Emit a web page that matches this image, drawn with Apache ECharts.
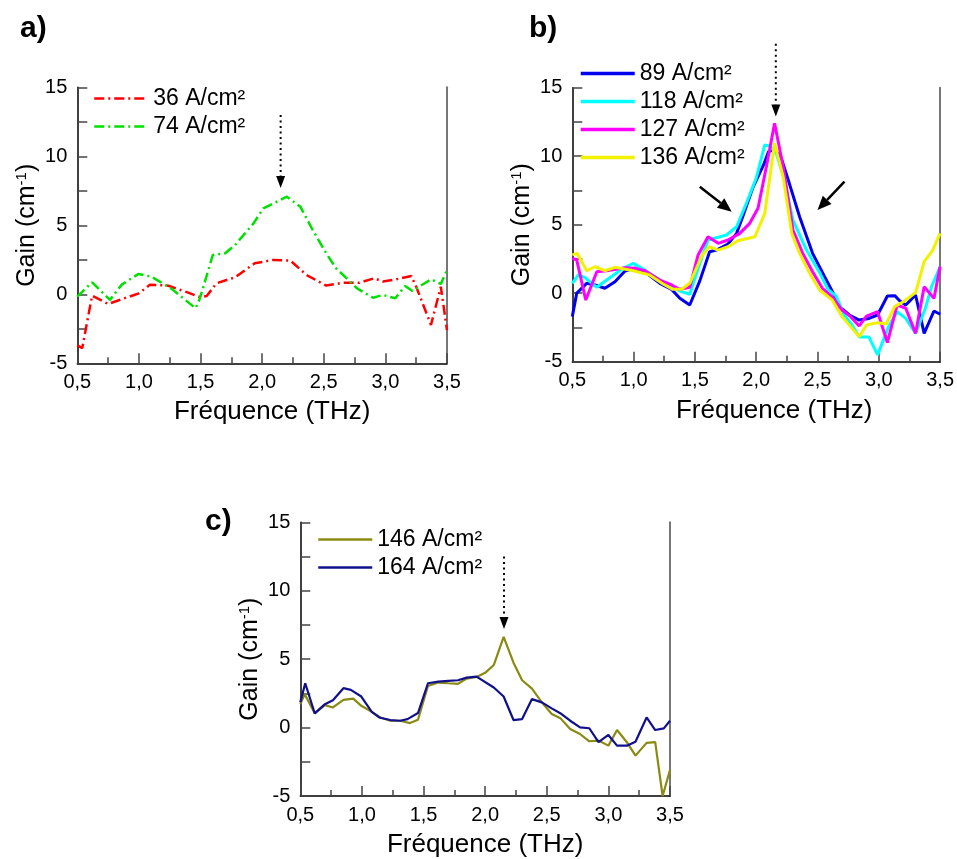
<!DOCTYPE html>
<html>
<head>
<meta charset="utf-8">
<script src="https://cdn.jsdelivr.net/npm/echarts@6/dist/echarts.min.js"></script>
<style>
html,body{margin:0;padding:0;background:#fff;}
#chart{width:957px;height:859px;}
</style>
</head>
<body>
<div id="chart"></div>
<script>
// ---------- DATA ----------
// Panel a
const freqA36 = [0.5, 0.54, 0.62, 0.75, 1.0, 1.09, 1.24, 1.40, 1.50, 1.55, 1.63, 1.78, 1.94, 2.09, 2.23, 2.36, 2.52, 2.66, 2.79, 2.91, 2.98, 3.09, 3.21, 3.25, 3.37, 3.45, 3.5];
const gainA36 = [-3.7, -3.9, -0.1, -0.7, 0.07, 0.7, 0.62, 0.12, -0.22, -0.12, 0.8, 1.23, 2.25, 2.49, 2.44, 1.4, 0.63, 0.84, 0.84, 1.16, 0.92, 1.09, 1.33, 0.55, -2.22, 0.55, -2.6];
const freqA74 = [0.5, 0.62, 0.765, 0.86, 0.995, 1.10, 1.26, 1.46, 1.495, 1.60, 1.70, 1.78, 1.93, 2.01, 2.20, 2.31, 2.41, 2.52, 2.60, 2.70, 2.77, 2.90, 2.98, 3.08, 3.16, 3.22, 3.37, 3.45, 3.5];
const gainA74 = [-0.17, 0.87, -0.41, 0.7, 1.47, 1.28, 0.43, -1.01, -0.29, 2.85, 2.97, 3.57, 5.14, 6.23, 7.07, 6.35, 4.66, 2.97, 1.88, 1.04, 0.43, -0.25, -0.05, -0.29, 0.6, 0.24, 1.09, 0.75, 1.76];
// Panel b
const freqB89 = [0.5, 0.536, 0.617, 0.685, 0.766, 0.848, 0.93, 1.01, 1.09, 1.214, 1.31, 1.377, 1.458, 1.54, 1.62, 1.676, 1.77, 1.84, 1.89, 1.97, 2.06, 2.10, 2.15, 2.205, 2.27, 2.354, 2.46, 2.558, 2.65, 2.68, 2.76, 2.84, 2.92, 2.99, 3.07, 3.13, 3.17, 3.22, 3.30, 3.37, 3.45, 3.5];
const gainB89 = [-1.71, 0, 0.72, 0.6, 0.36, 0.84, 1.62, 1.82, 1.57, 0.72, 0.28, -0.37, -0.86, 0.9, 3.03, 3.15, 3.59, 4.37, 5.58, 7.65, 9.36, 10.33, 10.5, 9.84, 8.02, 5.58, 2.91, 1.2, -0.37, -0.98, -1.59, -1.96, -1.84, -1.59, -0.2, -0.18, -0.55, -0.86, -0.13, -2.93, -1.3, -1.54];
const freqB118 = [0.5, 0.55, 0.60, 0.70, 0.78, 0.915, 0.997, 1.09, 1.214, 1.32, 1.39, 1.458, 1.54, 1.607, 1.69, 1.757, 1.84, 1.92, 2.0, 2.07, 2.11, 2.165, 2.23, 2.30, 2.41, 2.52, 2.585, 2.65, 2.72, 2.78, 2.84, 2.92, 2.99, 3.08, 3.15, 3.22, 3.30, 3.38, 3.43, 3.5];
const gainB118 = [0.72, 1.33, 1.16, 0.43, 0.96, 1.82, 2.18, 1.7, 0.96, 0.43, 0.11, -0.08, 2.18, 3.88, 4.08, 4.25, 4.85, 6.56, 8.39, 10.82, 10.74, 10.2, 8.26, 5.34, 3.15, 1.45, 0.28, -0.2, -1.6, -2.3, -3.2, -3.2, -4.5, -2.44, -1.35, -1.84, -2.93, -1.1, 0.47, 1.93];
const freqB127 = [0.5, 0.536, 0.61, 0.70, 0.78, 0.93, 1.01, 1.09, 1.214, 1.31, 1.377, 1.458, 1.526, 1.607, 1.69, 1.77, 1.866, 1.947, 2.015, 2.083, 2.15, 2.22, 2.30, 2.38, 2.46, 2.54, 2.62, 2.70, 2.77, 2.84, 2.90, 2.99, 3.07, 3.15, 3.22, 3.30, 3.37, 3.45, 3.5];
const gainB127 = [2.55, 2.43, -0.5, 1.57, 1.64, 1.86, 1.82, 1.65, 0.96, 0.6, 0.28, 0.43, 2.79, 4.12, 3.64, 3.88, 4.37, 5.1, 6.2, 9.23, 12.4, 9.23, 4.61, 2.91, 1.57, 0.36, -0.26, -1.23, -1.71, -2.39, -1.67, -1.35, -3.6, -0.86, -1.1, -2.93, 0.47, -0.38, 1.94];
const freqB136 = [0.5, 0.54, 0.617, 0.685, 0.766, 0.848, 0.997, 1.13, 1.24, 1.32, 1.39, 1.458, 1.553, 1.616, 1.69, 1.77, 1.85, 1.99, 2.07, 2.15, 2.22, 2.29, 2.354, 2.436, 2.517, 2.62, 2.70, 2.77, 2.84, 2.90, 2.99, 3.06, 3.13, 3.20, 3.30, 3.37, 3.44, 3.5];
const gainB136 = [2.8, 2.91, 1.64, 1.93, 1.64, 1.89, 1.64, 1.33, 0.67, 0.28, 0.28, 0.72, 2.66, 3.4, 3.15, 3.4, 3.83, 4.12, 5.83, 10.94, 8.5, 4.37, 2.91, 1.45, 0.23, -0.5, -1.71, -2.44, -3.18, -2.32, -2.15, -2.25, -0.98, -0.62, 0.04, 2.3, 3.15, 4.37];
// Panel c
const freqC146 = [0.5, 0.536, 0.617, 0.70, 0.765, 0.85, 0.93, 0.995, 1.08, 1.15, 1.23, 1.31, 1.39, 1.455, 1.536, 1.62, 1.70, 1.78, 1.85, 1.93, 2.0, 2.07, 2.15, 2.23, 2.30, 2.38, 2.46, 2.54, 2.61, 2.69, 2.77, 2.845, 2.92, 3.0, 3.07, 3.15, 3.22, 3.31, 3.38, 3.44, 3.5];
const gainC146 = [1.71, 2.44, 1.04, 1.64, 1.47, 2.03, 2.12, 1.59, 1.15, 0.74, 0.5, 0.5, 0.33, 0.57, 3.04, 3.29, 3.24, 3.2, 3.58, 3.7, 4.0, 4.57, 6.63, 4.74, 3.46, 2.85, 1.84, 0.99, 0.69, -0.1, -0.47, -1.0, -0.95, -1.32, -0.18, -1.07, -2.05, -1.12, -1.07, -5.0, -3.1];
const freqC164 = [0.5, 0.54, 0.617, 0.70, 0.765, 0.85, 0.91, 0.995, 1.08, 1.14, 1.23, 1.31, 1.37, 1.455, 1.536, 1.62, 1.70, 1.78, 1.85, 1.93, 2.07, 2.15, 2.23, 2.30, 2.38, 2.46, 2.54, 2.62, 2.69, 2.77, 2.845, 2.92, 3.0, 3.07, 3.15, 3.22, 3.31, 3.38, 3.45, 3.5];
const gainC164 = [1.84, 3.24, 1.04, 1.71, 2.0, 2.88, 2.75, 2.27, 1.15, 0.74, 0.55, 0.5, 0.62, 1.06, 3.24, 3.36, 3.41, 3.46, 3.65, 3.72, 2.93, 2.27, 0.55, 0.62, 2.08, 1.84, 1.4, 0.99, 0.5, 0.02, -0.05, -1.07, -0.54, -1.32, -1.32, -1.03, 0.74, -0.18, -0.06, 0.5];
// Annotation arrows [x0, y0, x1, y1]
const dottedArrowA = [[2.15, 13.0, 2.15, 7.7]];
const dottedArrowB = [[2.16, 18.2, 2.16, 12.9]];
const solidArrowsB = [[1.54, 7.77, 1.80, 5.95], [2.72, 8.14, 2.50, 6.07]];
const dottedArrowC = [[2.153, 12.5, 2.153, 7.2]];
// Axis / labels
const panelLabels = ['a)', 'b)', 'c)'];
const xAxisName = 'Fréquence (THz)';
const yTicks = [-5, 0, 5, 10, 15];

// ---------- HELPERS ----------
const FONT = 'Liberation Sans, Arial, Helvetica, sans-serif';
const zip = (f, g) => f.map((x, i) => [x, g[i]]);

function makeX(idx, namePadLeft) {
  return {
    type: 'value', gridIndex: idx, min: 0.5, max: 3.5, interval: 0.5,
    name: xAxisName, nameLocation: 'middle', nameGap: 36,
    nameTextStyle: {fontFamily: FONT, fontSize: 26, color: '#000', padding: [0, 0, 0, namePadLeft]},
    axisLine: {show: true, onZero: false, lineStyle: {color: '#000', width: 1.5}},
    axisTick: {show: true, inside: true, length: 10, lineStyle: {color: '#444', width: 1.5}},
    minorTick: {show: true, splitNumber: 2, length: 6, lineStyle: {color: '#444', width: 1.5}},
    splitLine: {show: false},
    axisLabel: {margin: 9, fontFamily: FONT, fontSize: 20, color: '#000',
      formatter: v => v.toFixed(1).replace('.', ',')}
  };
}
function makeY(idx) {
  return {
    type: 'value', gridIndex: idx, min: yTicks[0], max: yTicks[yTicks.length - 1], interval: 5,
    name: 'Gain (cm{sup|-1})', nameLocation: 'middle', nameGap: 38, nameRotate: 90,
    nameTextStyle: {fontFamily: FONT, fontSize: 25, color: '#000',
      rich: {sup: {fontFamily: FONT, fontSize: 15, verticalAlign: 'top', color: '#000'}}},
    axisLine: {show: true, onZero: false, lineStyle: {color: '#000', width: 1.5}},
    axisTick: {show: true, inside: true, length: 10, lineStyle: {color: '#444', width: 1.5}},
    minorTick: {show: true, splitNumber: 2, length: 10, lineStyle: {color: '#444', width: 1.5}},
    splitLine: {show: false},
    axisLabel: {margin: 10, fontFamily: FONT, fontSize: 20, color: '#000'}
  };
}
function makeYRight(idx) {
  return {
    type: 'value', gridIndex: idx, position: 'right', min: -5, max: 15, interval: 5,
    axisLine: {show: true, onZero: false, lineStyle: {color: '#777', width: 2}},
    axisTick: {show: false}, axisLabel: {show: false}, splitLine: {show: false}
  };
}
function lineSeries(name, f, g, xi, yi, color, width, dash) {
  return {
    type: 'line', name: name, xAxisIndex: xi, yAxisIndex: yi,
    data: zip(f, g), symbol: 'none', smooth: false,
    lineStyle: {color: color, width: width, type: dash || 'solid'},
    itemStyle: {color: color}, z: 3
  };
}
function arrowSeries(data, xi, yi, dotted) {
  return {
    type: 'custom', xAxisIndex: xi, yAxisIndex: yi, clip: false, silent: true, z: 5,
    data: data,
    renderItem: function (params, api) {
      const p0 = api.coord([api.value(0), api.value(1)]);
      const p1 = api.coord([api.value(2), api.value(3)]);
      const dx = p1[0] - p0[0], dy = p1[1] - p0[1];
      const len = Math.sqrt(dx * dx + dy * dy);
      const ux = dx / len, uy = dy / len;
      const headLen = dotted ? 12 : 14, headW = dotted ? 4.5 : 6;
      const bx = p1[0] - ux * headLen, by = p1[1] - uy * headLen;
      return {
        type: 'group',
        children: [
          {type: 'line', shape: {x1: p0[0], y1: p0[1], x2: bx, y2: by},
            style: {stroke: '#000', lineWidth: dotted ? 2 : 2.5, lineDash: dotted ? [2, 3.5] : null}},
          {type: 'polygon', shape: {points: [[p1[0], p1[1]], [bx - uy * headW, by + ux * headW], [bx + uy * headW, by - ux * headW]]},
            style: {fill: '#000'}}
        ]
      };
    }
  };
}
function legendAt(names, left, top, lineW) {
  return {
    data: names, orient: 'vertical', left: left, top: top, padding: 0,
    itemWidth: 54, itemHeight: 14, itemGap: 5, selectedMode: false,
    itemStyle: {opacity: 0, borderWidth: 0},
    lineStyle: {width: lineW},
    textStyle: {fontFamily: FONT, fontSize: 23, color: '#000'}
  };
}

const dashDot = [10, 4, 2, 4];
const option = {
  backgroundColor: '#fff',
  animation: false,
  title: [
    {text: panelLabels[0], left: 20, top: 14, padding: 0, textStyle: {fontFamily: FONT, fontSize: 30, fontWeight: 'bold', color: '#000'}},
    {text: panelLabels[1], left: 529, top: 14, padding: 0, textStyle: {fontFamily: FONT, fontSize: 30, fontWeight: 'bold', color: '#000'}},
    {text: panelLabels[2], left: 205, top: 507, padding: 0, textStyle: {fontFamily: FONT, fontSize: 30, fontWeight: 'bold', color: '#000'}}
  ],
  grid: [
    {left: 77.3, top: 87.3, width: 369.7, height: 276},
    {left: 572.3, top: 87.7, width: 368.4, height: 274},
    {left: 300.3, top: 522.3, width: 369.7, height: 275}
  ],
  xAxis: [makeX(0, 20), makeX(1, 36), makeX(2, 0)],
  yAxis: [makeY(0), makeY(1), makeY(2), makeYRight(0), makeYRight(1), makeYRight(2)],
  legend: [
    legendAt(['36 A/cm²', '74 A/cm²'], 93, 87, 2.5),
    legendAt(['89 A/cm²', '118 A/cm²', '127 A/cm²', '136 A/cm²'], 579, 62, 3.5),
    legendAt(['146 A/cm²', '164 A/cm²'], 317, 528, 2.5)
  ],
  series: [
    lineSeries('36 A/cm²', freqA36, gainA36, 0, 0, '#ff0000', 2.5, dashDot),
    lineSeries('74 A/cm²', freqA74, gainA74, 0, 0, '#00e000', 2.5, dashDot),
    lineSeries('89 A/cm²', freqB89, gainB89, 1, 1, '#0000ee', 3),
    lineSeries('118 A/cm²', freqB118, gainB118, 1, 1, '#00ffff', 3),
    lineSeries('127 A/cm²', freqB127, gainB127, 1, 1, '#ff00ff', 3),
    lineSeries('136 A/cm²', freqB136, gainB136, 1, 1, '#f2f200', 3),
    lineSeries('146 A/cm²', freqC146, gainC146, 2, 2, '#8a8a12', 2.2),
    lineSeries('164 A/cm²', freqC164, gainC164, 2, 2, '#10108c', 2.2),
    arrowSeries(dottedArrowA, 0, 0, true),
    arrowSeries(dottedArrowB, 1, 1, true),
    arrowSeries(solidArrowsB, 1, 1, false),
    arrowSeries(dottedArrowC, 2, 2, true)
  ]
};
const chart = echarts.init(document.getElementById('chart'), null, {renderer: 'canvas'});
chart.setOption(option);
</script>
</body>
</html>
